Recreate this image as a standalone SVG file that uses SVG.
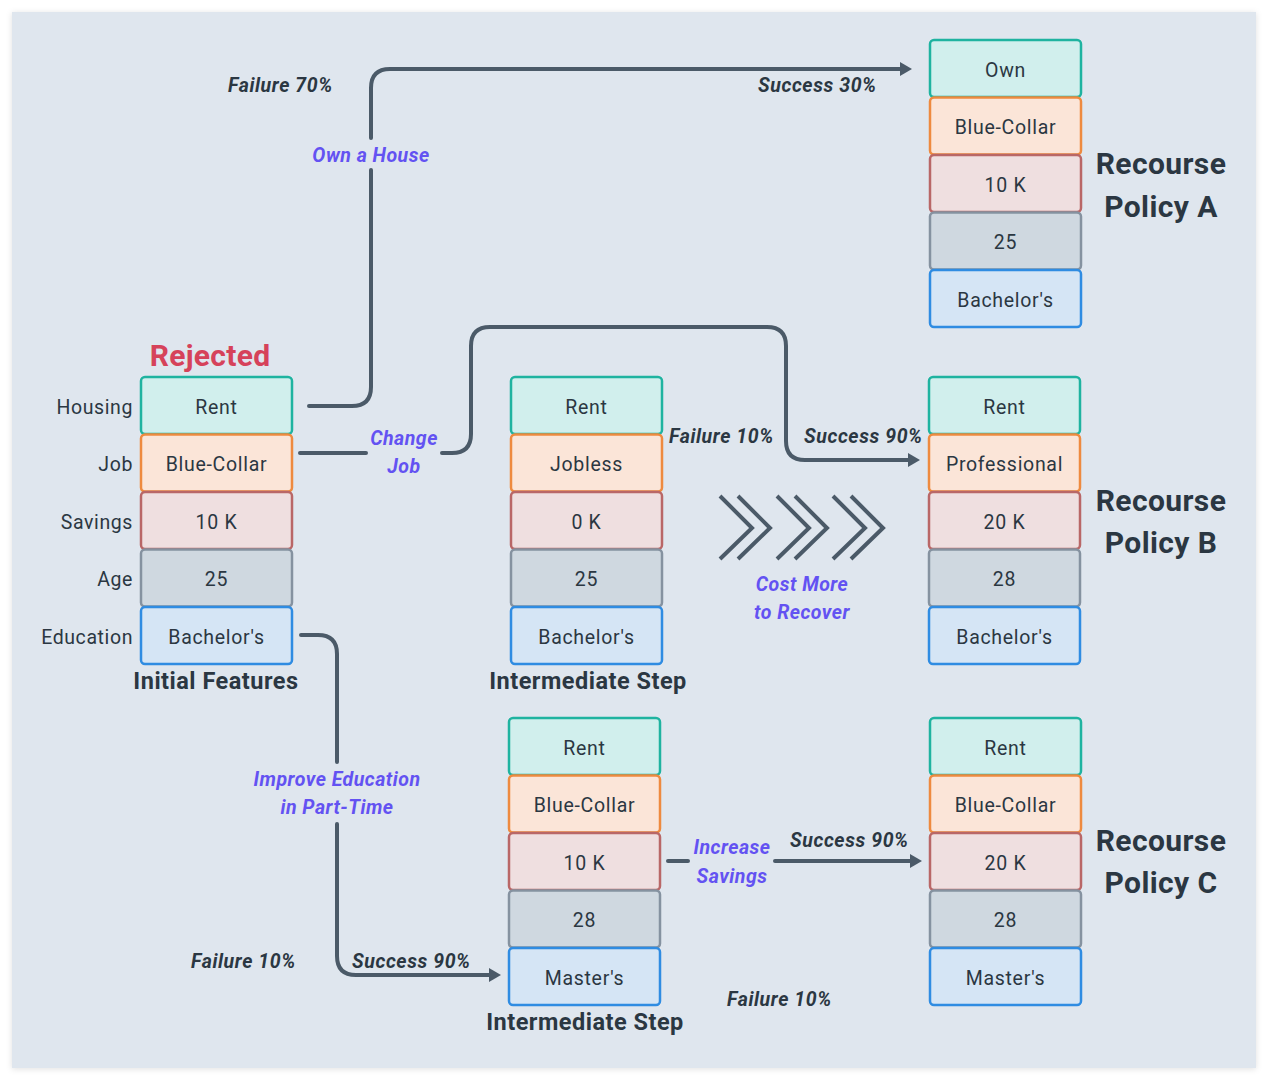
<svg xmlns="http://www.w3.org/2000/svg" width="1272" height="1080" viewBox="0 0 1272 1080">
<defs>
<style>
text{font-family:Roboto,"DejaVu Sans",sans-serif;fill:#2b3742}
.bt{font-size:19.5px;text-anchor:middle;letter-spacing:0.7px}
.fl{font-size:19.5px;text-anchor:end;letter-spacing:0.6px}
.ttl{font-size:23.5px;font-weight:bold;text-anchor:middle;letter-spacing:0.5px}
.pol{font-size:30px;font-weight:bold;text-anchor:middle;letter-spacing:0.4px}
.pr{font-size:19.5px;font-weight:bold;font-style:italic;letter-spacing:0.6px}
.lab{font-size:19.5px;font-weight:bold;font-style:italic;text-anchor:middle;fill:#6352f2;letter-spacing:0.5px}
.b{stroke-width:2.5}
.h{fill:#d1efed;stroke:#1fb3a0}
.j{fill:#fbe5d8;stroke:#ee8a3f}
.s{fill:#efdfe0;stroke:#b96767}
.a{fill:#cfd8e0;stroke:#8592a0}
.e{fill:#d5e5f5;stroke:#2f8ce2}
.c{fill:none;stroke:#4b5a68;stroke-width:4;stroke-linecap:round;stroke-linejoin:round}
.ch{fill:none;stroke:#4b5a68;stroke-width:4}
</style>
<marker id="arr" viewBox="0 0 12 14" refX="6" refY="7" markerWidth="12" markerHeight="14" markerUnits="userSpaceOnUse" orient="auto">
<path d="M0,0 L12,7 L0,14 Z" fill="#4b5a68"/>
</marker>
<filter id="sh" x="-5%" y="-5%" width="110%" height="110%">
<feDropShadow dx="0" dy="1" stdDeviation="3" flood-color="#000" flood-opacity="0.12"/>
</filter>
</defs>
<rect width="1272" height="1080" fill="#ffffff"/>
<rect x="12" y="12" width="1244" height="1056" fill="#dfe6ee" filter="url(#sh)"/>

<g id="connectors">
<path class="c" d="M309,406 H352 Q371,406 371,387 V170"/>
<path class="c" d="M371,138 V88 Q371,69 390,69 H906" marker-end="url(#arr)"/>
<path class="c" d="M300,453 H366"/>
<path class="c" d="M442,453 H452 Q471,453 471,434 V346 Q471,327 490,327 H767 Q786,327 786,346 V441 Q786,460 805,460 H914" marker-end="url(#arr)"/>
<path class="c" d="M301,635 H318 Q337,635 337,654 V762"/>
<path class="c" d="M337,824 V956 Q337,975 356,975 H495" marker-end="url(#arr)"/>
<path class="c" d="M668,861 H688"/>
<path class="c" d="M775,861 H916" marker-end="url(#arr)"/>
</g>

<g id="recover-chevrons">
<path class="ch" d="M720,496 L752,528 L720,559 M738,496 L770,528 L738,559 M777,496 L809,528 L777,559 M795,496 L827,528 L795,559 M833,496 L865,528 L833,559 M851,496 L883,528 L851,559"/>
</g>

<g id="labels">
<text class="pr" x="228" y="92">Failure 70%</text>
<text class="pr" x="758" y="92">Success 30%</text>
<text class="lab" x="371" y="162">Own a House</text>
<text class="lab" x="404" y="445">Change</text>
<text class="lab" x="404" y="473">Job</text>
<text class="pr" x="669" y="443">Failure 10%</text>
<text class="pr" x="804" y="443">Success 90%</text>
<text class="lab" x="802" y="591">Cost More</text>
<text class="lab" x="802" y="619">to Recover</text>
<text class="lab" x="337" y="786">Improve Education</text>
<text class="lab" x="337" y="814">in Part-Time</text>
<text class="pr" x="191" y="968">Failure 10%</text>
<text class="pr" x="352" y="968">Success 90%</text>
<text class="lab" x="732" y="854">Increase</text>
<text class="lab" x="732" y="883">Savings</text>
<text class="pr" x="790" y="847">Success 90%</text>
<text class="pr" x="727" y="1006">Failure 10%</text>
</g>

<g id="initial-features">
<text x="210" y="366" style="font-size:30px;font-weight:bold;fill:#d6425a;text-anchor:middle;letter-spacing:0.3px">Rejected</text>
<text class="fl" x="133" y="414">Housing</text>
<text class="fl" x="133" y="471">Job</text>
<text class="fl" x="133" y="529">Savings</text>
<text class="fl" x="133" y="586">Age</text>
<text class="fl" x="133" y="644">Education</text>
<rect class="b h" x="141" y="377" width="151" height="57" rx="4"/>
<rect class="b j" x="141" y="434.5" width="151" height="57" rx="4"/>
<rect class="b s" x="141" y="492" width="151" height="57" rx="4"/>
<rect class="b a" x="141" y="549.5" width="151" height="57" rx="4"/>
<rect class="b e" x="141" y="607" width="151" height="57" rx="4"/>
<text class="bt" x="216.5" y="414">Rent</text>
<text class="bt" x="216.5" y="471">Blue-Collar</text>
<text class="bt" x="216.5" y="529">10 K</text>
<text class="bt" x="216.5" y="586">25</text>
<text class="bt" x="216.5" y="644">Bachelor's</text>
<text class="ttl" x="216" y="689">Initial Features</text>
</g>

<g id="intermediate-step-1">
<rect class="b h" x="511" y="377" width="151" height="57" rx="4"/>
<rect class="b j" x="511" y="434.5" width="151" height="57" rx="4"/>
<rect class="b s" x="511" y="492" width="151" height="57" rx="4"/>
<rect class="b a" x="511" y="549.5" width="151" height="57" rx="4"/>
<rect class="b e" x="511" y="607" width="151" height="57" rx="4"/>
<text class="bt" x="586.5" y="414">Rent</text>
<text class="bt" x="586.5" y="471">Jobless</text>
<text class="bt" x="586.5" y="529">0 K</text>
<text class="bt" x="586.5" y="586">25</text>
<text class="bt" x="586.5" y="644">Bachelor's</text>
<text class="ttl" x="588" y="689">Intermediate Step</text>
</g>

<g id="policy-a">
<rect class="b h" x="930" y="40" width="151" height="57" rx="4"/>
<rect class="b j" x="930" y="97.5" width="151" height="57" rx="4"/>
<rect class="b s" x="930" y="155" width="151" height="57" rx="4"/>
<rect class="b a" x="930" y="212.5" width="151" height="57" rx="4"/>
<rect class="b e" x="930" y="270" width="151" height="57" rx="4"/>
<text class="bt" x="1005.5" y="77">Own</text>
<text class="bt" x="1005.5" y="134">Blue-Collar</text>
<text class="bt" x="1005.5" y="192">10 K</text>
<text class="bt" x="1005.5" y="249">25</text>
<text class="bt" x="1005.5" y="307">Bachelor's</text>
<text class="pol" x="1161" y="174">Recourse</text>
<text class="pol" x="1161" y="217">Policy A</text>
</g>

<g id="policy-b">
<rect class="b h" x="929" y="377" width="151" height="57" rx="4"/>
<rect class="b j" x="929" y="434.5" width="151" height="57" rx="4"/>
<rect class="b s" x="929" y="492" width="151" height="57" rx="4"/>
<rect class="b a" x="929" y="549.5" width="151" height="57" rx="4"/>
<rect class="b e" x="929" y="607" width="151" height="57" rx="4"/>
<text class="bt" x="1004.5" y="414">Rent</text>
<text class="bt" x="1004.5" y="471">Professional</text>
<text class="bt" x="1004.5" y="529">20 K</text>
<text class="bt" x="1004.5" y="586">28</text>
<text class="bt" x="1004.5" y="644">Bachelor's</text>
<text class="pol" x="1161" y="511">Recourse</text>
<text class="pol" x="1161" y="553">Policy B</text>
</g>

<g id="intermediate-step-2">
<rect class="b h" x="509" y="718" width="151" height="57" rx="4"/>
<rect class="b j" x="509" y="775.5" width="151" height="57" rx="4"/>
<rect class="b s" x="509" y="833" width="151" height="57" rx="4"/>
<rect class="b a" x="509" y="890.5" width="151" height="57" rx="4"/>
<rect class="b e" x="509" y="948" width="151" height="57" rx="4"/>
<text class="bt" x="584.5" y="755">Rent</text>
<text class="bt" x="584.5" y="812">Blue-Collar</text>
<text class="bt" x="584.5" y="870">10 K</text>
<text class="bt" x="584.5" y="927">28</text>
<text class="bt" x="584.5" y="985">Master's</text>
<text class="ttl" x="585" y="1030">Intermediate Step</text>
</g>

<g id="policy-c">
<rect class="b h" x="930" y="718" width="151" height="57" rx="4"/>
<rect class="b j" x="930" y="775.5" width="151" height="57" rx="4"/>
<rect class="b s" x="930" y="833" width="151" height="57" rx="4"/>
<rect class="b a" x="930" y="890.5" width="151" height="57" rx="4"/>
<rect class="b e" x="930" y="948" width="151" height="57" rx="4"/>
<text class="bt" x="1005.5" y="755">Rent</text>
<text class="bt" x="1005.5" y="812">Blue-Collar</text>
<text class="bt" x="1005.5" y="870">20 K</text>
<text class="bt" x="1005.5" y="927">28</text>
<text class="bt" x="1005.5" y="985">Master's</text>
<text class="pol" x="1161" y="851">Recourse</text>
<text class="pol" x="1161" y="893">Policy C</text>
</g>
</svg>
